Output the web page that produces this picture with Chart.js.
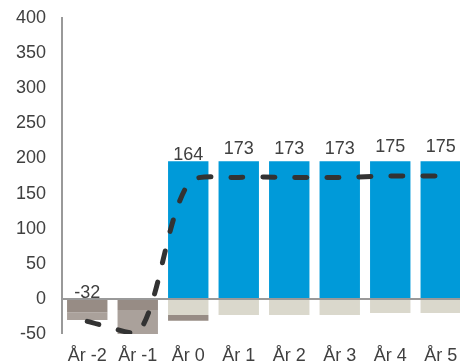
<!DOCTYPE html>
<html><head><meta charset="utf-8">
<script src="https://cdn.jsdelivr.net/npm/chart.js@4.4.1/dist/chart.umd.min.js"></script>
<style>html,body{margin:0;padding:0;background:#fff;overflow:hidden}#wrap{width:466px;height:364px}</style>
</head><body><div id="wrap"><canvas id="c" width="466" height="364"></canvas></div>
<script>
const categories = ['År -2','År -1','År 0','År 1','År 2','År 3','År 4','År 5'];
const blueValues = [0, 0, 196, 196, 196, 196, 196, 196];
const beigeValues = [0, 0, -23, -23, -23, -23, -20, -20];
const darkBrownValues = [-19, -16, -8, 0, 0, 0, 0, 0];
const lightBrownValues = [-11, -34, 0, 0, 0, 0, 0, 0];
const lineValues = [-32, -50, 164, 173, 173, 173, 175, 175];
const valueLabels = ['-32', '', '164', '173', '173', '173', '175', '175'];
const yTicks = [-50, 0, 50, 100, 150, 200, 250, 300, 350, 400];

const FONT = "'Liberation Sans', Arial, sans-serif";
const TXT = '#404040';

const labelPlugin = {
  id: 'lineLabels',
  afterDatasetsDraw(chart) {
    const meta = chart.getDatasetMeta(0);
    const ctx = chart.ctx;
    ctx.save();
    ctx.font = '18px ' + FONT;
    ctx.fillStyle = TXT;
    ctx.textAlign = 'center';
    ctx.textBaseline = 'middle';
    meta.data.forEach((pt, i) => {
      if (valueLabels[i]) ctx.fillText(valueLabels[i], pt.x, pt.y - 28.5);
    });
    ctx.restore();
  }
};

new Chart(document.getElementById('c'), {
  data: {
    labels: categories,
    datasets: [
      { type: 'line', data: lineValues, borderColor: '#333333', borderWidth: 5,
        borderDash: [12, 20], borderCapStyle: 'round', pointRadius: 0, tension: 0.3,
        fill: false, order: 0 },
      { type: 'bar', data: blueValues, backgroundColor: '#009ad9', order: 1, stack: 's' },
      { type: 'bar', data: beigeValues, backgroundColor: '#dad8cc', order: 1, stack: 's' },
      { type: 'bar', data: darkBrownValues, backgroundColor: '#978c85', order: 1, stack: 's' },
      { type: 'bar', data: lightBrownValues, backgroundColor: '#aaa19b', order: 1, stack: 's' }
    ]
  },
  options: {
    responsive: false,
    animation: false,
    events: [],
    layout: { padding: { top: 18, right: 0, left: 0, bottom: 0 } },
    plugins: { legend: { display: false }, tooltip: { enabled: false } },
    datasets: { bar: { categoryPercentage: 1, barPercentage: 0.8 } },
    scales: {
      x: {
        stacked: true,
        grid: { display: false, drawTicks: false },
        border: { display: false },
        ticks: { color: TXT, font: { family: FONT, size: 18 }, padding: 11, maxRotation: 0, autoSkip: false },
        afterFit(s) { s.height = 30; s.paddingLeft = 0; s.paddingRight = 0; }
      },
      y: {
        stacked: true,
        min: -50, max: 400,
        afterBuildTicks(s) { s.ticks = yTicks.map(v => ({ value: v })); },
        grid: {
          drawTicks: false,
          color: ctx => (ctx.tick && ctx.tick.value === 0) ? '#999999' : 'rgba(0,0,0,0)',
          lineWidth: ctx => (ctx.tick && ctx.tick.value === 0) ? 2 : 0
        },
        border: { display: true, color: '#999999', width: 2 },
        ticks: { color: TXT, font: { family: FONT, size: 18 }, padding: 16 },
        afterFit(s) { s.width = 62; s.paddingTop = 0; s.paddingBottom = 0; }
      }
    }
  },
  plugins: [labelPlugin]
});
</script></body></html>
